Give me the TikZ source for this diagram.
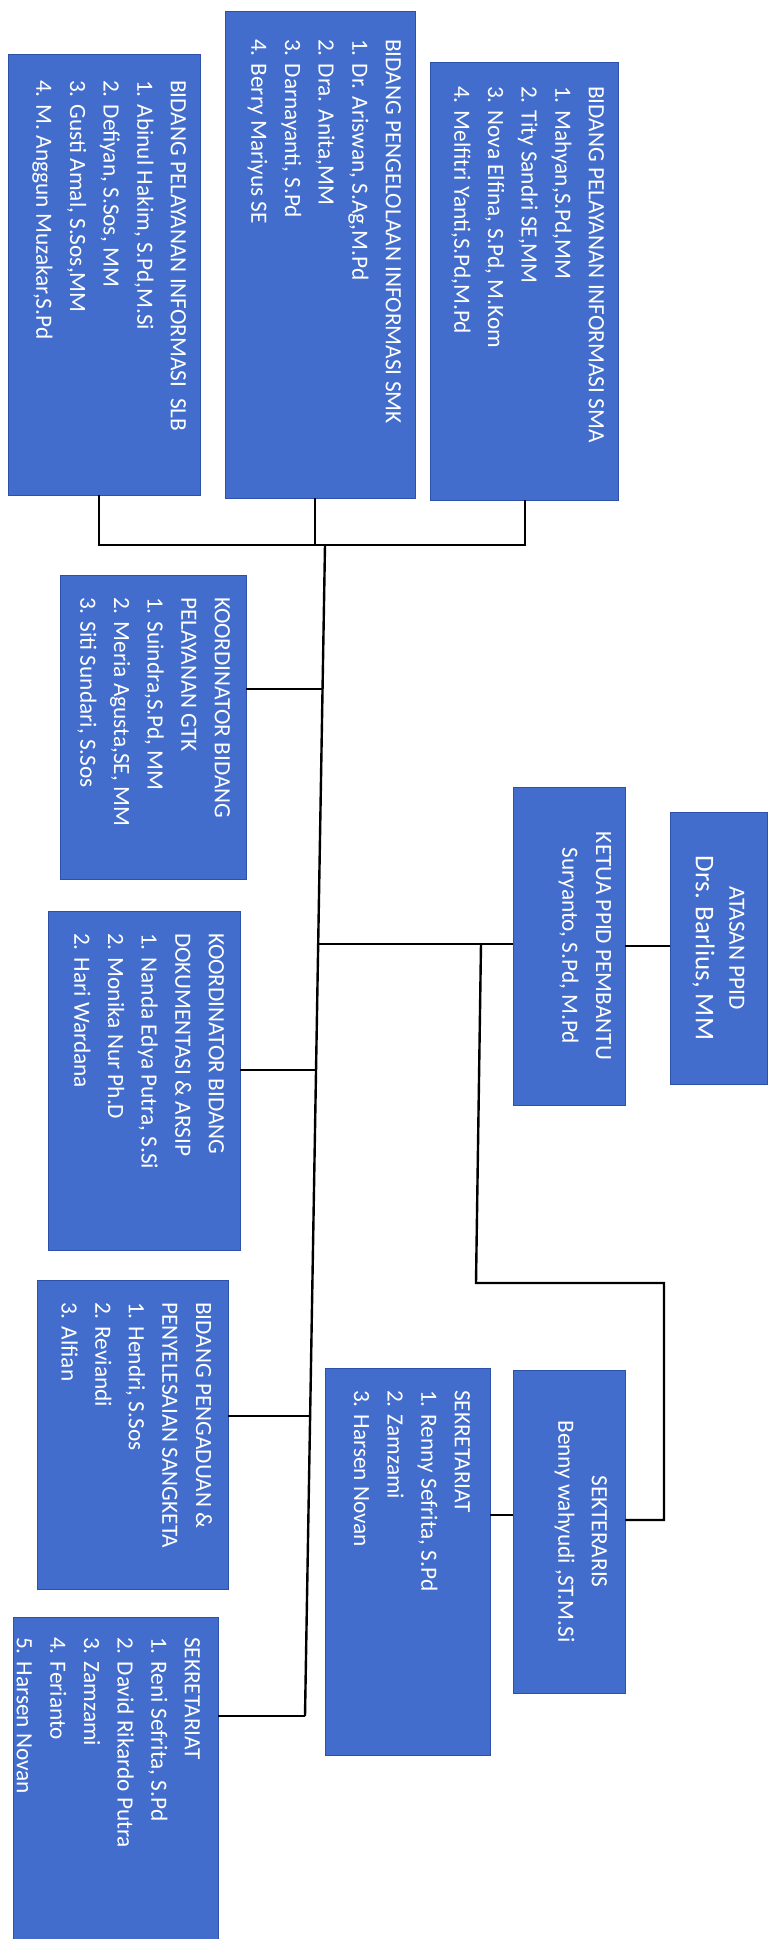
\documentclass[tikz,border=0pt]{standalone}
\usepackage{fontspec}
\setmainfont{Carlito}
\usetikzlibrary{fit}
\definecolor{boxblue}{RGB}{66,109,205}
\definecolor{boxedge}{RGB}{45,80,170}
\begin{document}
\begin{tikzpicture}[x=0.5pt,y=-0.5pt,
  box/.style={rectangle, fill=boxblue, draw=boxedge, line width=0.4pt, inner sep=0pt},
  txt/.style={text=white, font=\fontsize{11.65}{16.8}\selectfont, align=left, inner sep=0pt, rotate=-90, anchor=north west},
  ctxt/.style={text=white, font=\fontsize{11.65}{16.8}\selectfont, align=center, inner sep=0pt, rotate=-90, anchor=north},
  conn/.style={draw=black, line width=1.2pt}]
\useasboundingbox (0,0) rectangle (773,1939);
% boxes
\node[box, fit={(430,62) (618,500)}] (sma) {};
\node[box, fit={(225,11) (415,498)}] (smk) {};
\node[box, fit={(8,54) (200,495)}] (slb) {};
\node[box, fit={(60,575) (246,879)}] (gtk) {};
\node[box, fit={(48,911) (240,1250)}] (dok) {};
\node[box, fit={(37,1280) (228,1589)}] (peng) {};
\node[box, fit={(13,1617) (218,1945)}] (sekb) {};
\node[box, fit={(513,787) (625,1105)}] (ketua) {};
\node[box, fit={(670,812) (767,1084)}] (atasan) {};
\node[box, fit={(513,1370) (625,1693)}] (sekt) {};
\node[box, fit={(325,1368) (490,1755)}] (sekr) {};
% texts
\node[txt] (smat) at ([xshift=-7pt,yshift=-12pt]sma.north east) {BIDANG PELAYANAN INFORMASI SMA\\1. Mahyan,S.Pd,MM\\2. Tity Sandri SE,MM\\3. Nova Elfina, S.Pd, M.Kom\\4. Melfitri Yanti,S.Pd,M.Pd};
\node[txt] (smkt) at ([xshift=-7pt,yshift=-14pt]smk.north east) {BIDANG PENGELOLAAN INFORMASI SMK\\1. Dr. Ariswan, S.Ag,M.Pd\\2. Dra. Anita,MM\\3. Darnayanti, S.Pd\\4. Berry Mariyus SE};
\node[txt] (slbt) at ([xshift=-7pt,yshift=-13pt]slb.north east) {BIDANG PELAYANAN INFORMASI\ \ SLB\\1. Abinul Hakim, S.Pd,M.Si\\2. Defiyan, S.Sos, MM\\3. Gusti Amal, S.Sos,MM\\4. M. Anggun Muzakar,S.Pd};
\node[txt] (gtkt) at ([xshift=-8pt,yshift=-11pt]gtk.north east) {KOORDINATOR BIDANG\\PELAYANAN GTK\\1. Suindra,S.Pd, MM\\2. Meria Agusta,SE, MM\\3. Siti Sundari, S.Sos};
\node[txt] (dokt) at ([xshift=-8pt,yshift=-11pt]dok.north east) {KOORDINATOR BIDANG\\DOKUMENTASI \& ARSIP\\1. Nanda Edya Putra, S.Si\\2. Monika Nur Ph.D\\2. Hari Wardana};
\node[txt] (pengt) at ([xshift=-8pt,yshift=-11pt]peng.north east) {BIDANG PENGADUAN \&\\PENYELESAIAN SANGKETA\\1. Hendri, S.Sos\\2. Reviandi\\3. Alfian};
\node[txt] (sekbt) at ([xshift=-9pt,yshift=-10pt]sekb.north east) {SEKRETARIAT\\1. Reni Sefrita, S.Pd\\2. David Rikardo Putra\\3. Zamzami\\4. Ferianto\\5. Harsen Novan};
\node[txt] (sekrt) at ([xshift=-10pt,yshift=-11pt]sekr.north east) {SEKRETARIAT\\1. Renny Sefrita, S.Pd\\2. Zamzami\\3. Harsen Novan};
\node[ctxt] (ketuat) at ([xshift=-7pt]ketua.east) {KETUA PPID PEMBANTU\\Suryanto, S.Pd, M.Pd};
\node[ctxt] (sektt) at ([xshift=-9pt]sekt.east) {SEKTERARIS\\Benny wahyudi ,ST.M.Si};
\node[ctxt, anchor=center] (atasant) at (atasan.center) {ATASAN PPID\\\fontsize{13.5}{17}\selectfont Drs. Barlius, MM};
% junction coordinates
\coordinate (b1) at (99,545);
\coordinate (b2) at (315,545);
\coordinate (b3) at (525,545);
\coordinate (mtop) at (325,545);
\coordinate (mbot) at (305,1716);
\coordinate (m1) at (322.5,689);
\coordinate (m2) at (318.2,944);
\coordinate (m3) at (316,1070);
\coordinate (m4) at (310.1,1416);
\coordinate (s0) at (481,944);
\coordinate (s1) at (476,1283);
\coordinate (s2) at (664,1283);
\coordinate (s3) at (664,1520);
\coordinate (k1) at (0,946);
\coordinate (k2) at (0,1515);
% connectors
\draw[conn] (slb.south -| b1) -- (b1) -- (b3) -- (sma.south -| b3);
\draw[conn] (smk.south -| b2) -- (b2);
\draw[conn] (mtop) -- (mbot);
\draw[conn] (gtk.east |- m1) -- (m1);
\draw[conn] (dok.east |- m3) -- (m3);
\draw[conn] (peng.east |- m4) -- (m4);
\draw[conn] (sekb.east |- mbot) -- (mbot);
\draw[conn] (m2) -- (ketua.west |- m2);
\draw[conn] (ketua.east |- k1) -- (atasan.west |- k1);
\draw[conn] (s0) -- (s1) -- (s2) -- (s3) -- (sekt.east |- s3);
\draw[conn] (sekr.east |- k2) -- (sekt.west |- k2);
\end{tikzpicture}
\end{document}
